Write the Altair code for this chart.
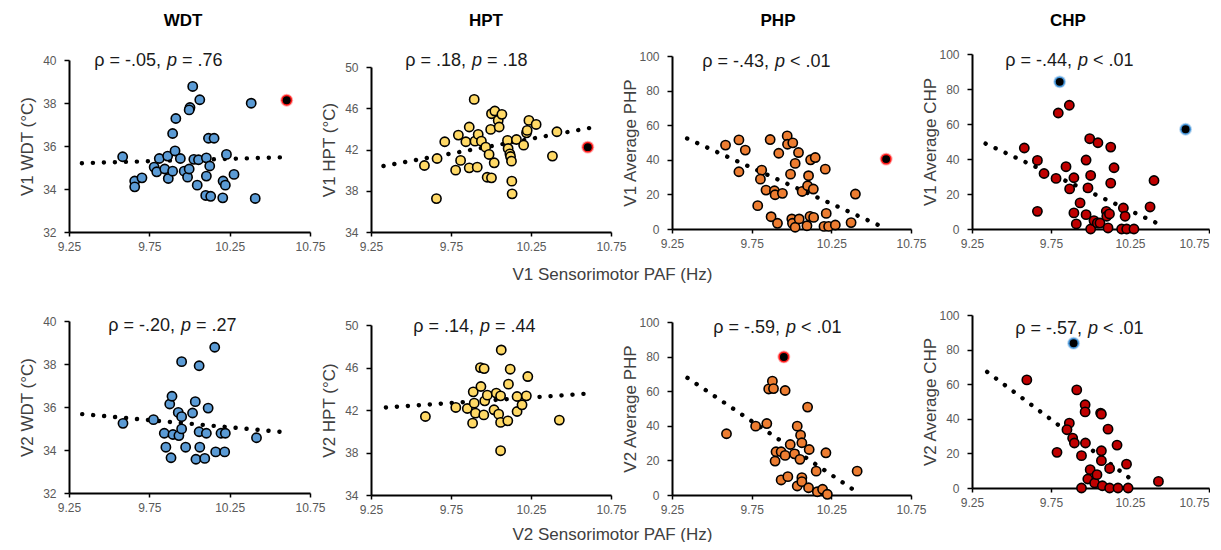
import altair as alt
import pandas as pd

FONT = "Liberation Sans"

# ---------------- data ----------------
# Row 1: V1
v1_wdt_x = [9.584, 9.659, 9.659, 9.704, 9.78, 9.796, 9.812, 9.846, 9.864, 9.868, 9.895, 9.895, 9.915,
            9.91, 9.943, 9.967, 9.988, 9.998, 10.003, 9.998, 10.02, 10.027, 10.048, 10.056, 10.064,
            10.101, 10.105, 10.105, 10.118, 10.126, 10.132, 10.153, 10.207, 10.209, 10.223, 10.23,
            10.277, 10.384, 10.409]
v1_wdt_y = [35.50, 34.37, 34.10, 34.52, 35.02, 34.80, 35.42, 34.93, 35.53, 34.49, 34.83, 36.58, 37.28,
            35.77, 35.42, 34.83, 34.55, 34.93, 37.79, 37.68, 38.77, 35.38, 34.18, 35.36, 38.15,
            33.70, 35.45, 34.60, 36.36, 35.07, 33.66, 36.36, 33.59, 34.37, 34.18, 35.61,
            34.68, 37.99, 33.56]
v1_wdt_out_x = [10.605]
v1_wdt_out_y = [38.13]
v1_wdt_trend_x = [9.33, 10.605]
v1_wdt_trend_y = [35.2, 35.48]

v1_hpt_x = [9.584, 9.659, 9.663, 9.711, 9.779, 9.796, 9.81, 9.864, 9.864, 9.843, 9.895, 9.9, 9.914,
            9.92, 9.94, 9.967, 9.976, 9.988, 9.998, 10.003, 10.003, 10.02, 10.024, 10.045, 10.051,
            10.068, 10.103, 10.107, 10.118, 10.122, 10.128, 10.13, 10.132, 10.159, 10.204, 10.222,
            10.226, 10.237, 10.282, 10.384, 10.412]
v1_hpt_y = [40.45, 37.24, 41.13, 42.75, 40.0, 43.40, 40.94, 44.18, 40.22, 42.75, 46.86, 42.81, 40.29,
            43.46, 42.81, 42.23, 39.31, 41.52, 43.95, 45.47, 39.25, 40.71, 45.73, 44.82, 44.18,
            45.41, 42.88, 42.10, 41.58, 41.32, 40.87, 38.93, 37.70, 42.97, 42.42, 43.62,
            43.85, 44.82, 44.43, 41.36, 43.72]
v1_hpt_out_x = [10.605]
v1_hpt_out_y = [42.23]
v1_hpt_trend_x = [9.328, 10.65]
v1_hpt_trend_y = [40.4, 44.18]

v1_php_x = [9.586, 9.67, 9.67, 9.71, 9.788, 9.813, 9.805, 9.84, 9.866, 9.872, 9.893, 9.897, 9.912,
            9.92, 9.943, 9.973, 9.975, 9.994, 10.002, 10.008, 10.006, 10.023, 10.023, 10.044, 10.048,
            10.067, 10.097, 10.101, 10.107, 10.12, 10.116, 10.137, 10.149, 10.139, 10.204, 10.212,
            10.218, 10.233, 10.275, 10.374, 10.401]
v1_php_y = [48.5, 51.5, 33.1, 45.6, 13.5, 34.0, 28.8, 22.5, 51.7, 7.1, 22.1, 19.8, 3.3,
            43.8, 20.6, 53.8, 49.0, 31.7, 5.8, 49.8, 3.3, 1.0, 37.9, 44.2, 5.8,
            21.7, 1.9, 25.0, 30.8, 40.0, 7.3, 23.1, 41.3, 6.7, 1.5, 34.6,
            9.0, 1.5, 2.3, 3.7, 20.2]
v1_php_out_x = [10.594]
v1_php_out_y = [40.4]
v1_php_trend_x = [9.345, 10.586]
v1_php_trend_y = [52.3, 0.6]

v1_chp_x = [9.796, 9.866, 9.581, 9.664, 9.664, 9.706, 9.782, 9.845, 9.868, 9.895, 9.895, 9.91, 9.934,
            9.972, 9.972, 9.984, 9.995, 10.001, 10.001, 10.022, 10.043, 10.047, 10.06, 10.1, 10.103,
            10.111, 10.12, 10.128, 10.128, 10.149, 10.197, 10.208, 10.219, 10.229, 10.275, 10.377,
            10.402]
v1_chp_y = [66.3, 70.7, 46.3, 39.2, 10.1, 31.7, 28.9, 35.6, 22.9, 29.3, 9.2, 2.9, 14.9,
            39.4, 8.2, 23.5, 51.6, 30.6, 0.0, 4.8, 3.4, 49.3, 3.4, 10.1, 7.3,
            0.6, 8.6, 46.8, 26.2, 35.0, 0.0, 12.0, 7.3, 0.0, 0.0, 12.6,
            27.7]
v1_chp_out_x = [9.805, 10.602]
v1_chp_out_y = [84.1, 57.0]
v1_chp_trend_x = [9.336, 10.455]
v1_chp_trend_y = [48.8, 1.9]

# Row 2: V2
v2_wdt_x = [9.586, 9.776, 9.843, 9.853, 9.885, 9.877, 9.891, 9.897, 9.93, 9.934, 9.951, 9.951, 9.951,
            9.976, 10.019, 10.036, 10.04, 10.06, 10.06, 10.064, 10.095, 10.105, 10.116, 10.157,
            10.163, 10.196, 10.223, 10.219, 10.417]
v2_wdt_y = [35.24, 35.41, 34.78, 34.13, 33.64, 36.14, 36.50, 34.72, 35.75, 34.67, 38.11, 35.55, 34.98,
            34.13, 35.72, 36.25, 33.57, 37.92, 34.85, 34.13, 33.61, 34.78, 35.95, 38.78,
            33.91, 34.78, 34.78, 33.91, 34.57]
v2_wdt_out_x = []
v2_wdt_out_y = []
v2_wdt_trend_x = [9.332, 10.605]
v2_wdt_trend_y = [35.67, 34.82]

v2_hpt_x = [9.59, 9.78, 9.852, 9.885, 9.889, 9.895, 9.903, 9.937, 9.934, 9.955, 9.957, 9.961, 9.977,
            10.019, 10.033, 10.048, 10.06, 10.064, 10.06, 10.06, 10.105, 10.12, 10.109, 10.163,
            10.163, 10.194, 10.221, 10.23, 10.427]
v2_hpt_y = [41.39, 42.24, 42.14, 40.76, 43.71, 42.64, 41.70, 44.21, 45.99, 41.54, 45.90, 42.86, 43.40,
            42.02, 43.59, 41.61, 43.33, 47.65, 40.83, 38.17, 40.98, 45.84, 44.43, 43.27,
            41.86, 42.49, 43.33, 45.15, 41.05]
v2_hpt_out_x = []
v2_hpt_out_y = []
v2_hpt_trend_x = [9.343, 10.613]
v2_hpt_trend_y = [42.24, 43.55]

v2_php_x = [9.592, 9.775, 9.845, 9.857, 9.88, 9.887, 9.897, 9.903, 9.935, 9.935, 9.96, 9.96, 9.977,
            9.992, 10.019, 10.036, 10.036, 10.053, 10.057, 10.065, 10.065, 10.065, 10.101, 10.107,
            10.111, 10.155, 10.162, 10.195, 10.216, 10.225, 10.412]
v2_php_y = [35.4, 39.8, 41.3, 61.3, 65.8, 61.5, 19.6, 25.0, 8.7, 25.0, 60.4, 22.9, 10.6,
            29.2, 23.8, 39.8, 5.2, 20.6, 34.6, 30.2, 10.0, 7.7, 50.8, 4.2,
            26.3, 13.8, 1.9, 3.3, 24.4, 0.4, 13.8]
v2_php_out_x = [9.952]
v2_php_out_y = [79.8]
v2_php_trend_x = [9.347, 10.422]
v2_php_trend_y = [67.7, 1.0]

v2_chp_x = [9.597, 9.788, 9.866, 9.851, 9.887, 9.898, 9.913, 9.943, 9.943, 9.966, 9.966, 9.968, 9.983,
            9.998, 10.026, 10.041, 10.064, 10.069, 10.069, 10.069, 10.075, 10.111, 10.121, 10.121,
            10.168, 10.174, 10.228, 10.238, 10.43]
v2_chp_y = [62.5, 20.6, 37.5, 33.7, 28.8, 26.0, 56.7, 18.7, 0.0, 48.1, 44.0, 26.0, 5.2,
            10.6, 2.9, 7.7, 43.3, 42.7, 21.5, 15.8, 1.3, 34.0, 11.3, 0.0,
            24.8, 0.0, 13.8, 0.0, 3.8]
v2_chp_out_x = [9.893]
v2_chp_out_y = [83.7]
v2_chp_trend_x = [9.346, 10.289]
v2_chp_trend_y = [67.1, 2.9]

column_titles = ["WDT", "HPT", "PHP", "CHP"]
row_xtitles = ["V1 Sensorimotor PAF (Hz)", "V2 Sensorimotor PAF (Hz)"]
x_ticks = [9.25, 9.75, 10.25, 10.75]
wdt_ticks = [32, 34, 36, 38, 40]
hpt_ticks = [34, 38, 42, 46, 50]
pct_ticks = [0, 20, 40, 60, 80, 100]

rho_text = ["ρ = -.05,", "ρ = .18,", "ρ = -.43,", "ρ = -.44,",
            "ρ = -.20,", "ρ = .14,", "ρ = -.59,", "ρ = -.57,"]
p_text = ["= .76", "= .18", "< .01", "< .01",
          "= .27", "= .44", "< .01", "< .01"]
y_titles = ["V1 WDT (°C)", "V1 HPT (°C)", "V1 Average PHP", "V1 Average CHP",
            "V2 WDT (°C)", "V2 HPT (°C)", "V2 Average PHP", "V2 Average CHP"]

# ---------------- styling / layout ----------------
COL_W = [241, 240, 239, 237]
ROW_H = [178, 180]
# pixel extent (top, bottom) of each panel's vertical axis inside its cell
Y_RANGE = [(6, 178), (13, 178), (2, 175), (0, 175),
           (6, 178), (10, 180), (7, 180), (0, 173)]
X_OFFSET = [0, 0, -3, -3, -2, 0, 0, -7]
TITLE_X = [114, 115, 106, 96]
TITLE_Y = -33.5
XTITLE_Y = [42, 39]
COLORS = {"WDT": "#5B9BD5", "HPT": "#FFD966", "PHP": "#ED7D31", "CHP": "#C00000"}
GLOW = {"WDT": "#FF1010", "HPT": "#FF1010", "PHP": "#FF1010", "CHP": "#3C8FD6"}
P_X = [98, 101, 103, 106, 112, 109, 114, 116]   # left position of italic p (px in panel)
TEXT_Y = [7, 7, 8, 7, 11, 12, 13, 14]
FS = 18

series = [
    (v1_wdt_x, v1_wdt_y, v1_wdt_out_x, v1_wdt_out_y, v1_wdt_trend_x, v1_wdt_trend_y, "WDT", [32, 40], wdt_ticks),
    (v1_hpt_x, v1_hpt_y, v1_hpt_out_x, v1_hpt_out_y, v1_hpt_trend_x, v1_hpt_trend_y, "HPT", [34, 50], hpt_ticks),
    (v1_php_x, v1_php_y, v1_php_out_x, v1_php_out_y, v1_php_trend_x, v1_php_trend_y, "PHP", [0, 100], pct_ticks),
    (v1_chp_x, v1_chp_y, v1_chp_out_x, v1_chp_out_y, v1_chp_trend_x, v1_chp_trend_y, "CHP", [0, 100], pct_ticks),
    (v2_wdt_x, v2_wdt_y, v2_wdt_out_x, v2_wdt_out_y, v2_wdt_trend_x, v2_wdt_trend_y, "WDT", [32, 40], wdt_ticks),
    (v2_hpt_x, v2_hpt_y, v2_hpt_out_x, v2_hpt_out_y, v2_hpt_trend_x, v2_hpt_trend_y, "HPT", [34, 50], hpt_ticks),
    (v2_php_x, v2_php_y, v2_php_out_x, v2_php_out_y, v2_php_trend_x, v2_php_trend_y, "PHP", [0, 100], pct_ticks),
    (v2_chp_x, v2_chp_y, v2_chp_out_x, v2_chp_out_y, v2_chp_trend_x, v2_chp_trend_y, "CHP", [0, 100], pct_ticks),
]


def make_panel(i):
    xs, ys, oxs, oys, txs, tys, kind, ydom, yticks = series[i]
    row, col = divmod(i, 4)
    w = COL_W[col]
    h = ROW_H[row]
    ytop, ybot = Y_RANGE[i]

    xkw = dict(values=x_ticks, format=".2f", offset=X_OFFSET[i])
    if col == 3:
        xkw["labelAlign"] = {"condition": {"test": "datum.value > 10.7", "value": "right"},
                             "value": "center"}
    if col == 1:
        xaxis = alt.Axis(title=row_xtitles[row], titleX=241, titleY=XTITLE_Y[row],
                         titleBaseline="middle", titleAnchor="middle", **xkw)
    else:
        xaxis = alt.Axis(title=None, **xkw)
    yaxis = alt.Axis(values=yticks, title=y_titles[i], titleX=-42, titleY=(ytop + ybot) / 2,
                     titleBaseline="middle", titleAnchor="middle")

    xenc = alt.X("x:Q", scale=alt.Scale(domain=[9.25, 10.75], nice=False, zero=False), axis=xaxis)
    yenc = alt.Y("y:Q", scale=alt.Scale(domain=ydom, range=[ybot, ytop], nice=False, zero=False),
                 axis=yaxis)

    trend = alt.Chart(pd.DataFrame({"x": txs, "y": tys})).mark_line(
        color="black", strokeWidth=4.4, strokeDash=[0.1, 10.9], strokeCap="round"
    ).encode(x=xenc, y=yenc)

    pts = alt.Chart(pd.DataFrame({"x": xs, "y": ys})).mark_circle(
        size=86, color=COLORS[kind], opacity=1, stroke="black", strokeWidth=1.6
    ).encode(x=xenc, y=yenc)

    layers = [trend, pts]
    if oxs:
        odf = pd.DataFrame({"x": oxs, "y": oys})
        layers.append(alt.Chart(odf).mark_circle(size=165, color=GLOW[kind], opacity=0.35)
                      .encode(x=xenc, y=yenc))
        layers.append(alt.Chart(odf).mark_circle(size=118, color=GLOW[kind], opacity=0.95)
                      .encode(x=xenc, y=yenc))
        layers.append(alt.Chart(odf).mark_circle(size=62, color="black", opacity=1)
                      .encode(x=xenc, y=yenc))

    px = P_X[i]
    ty = TEXT_Y[i]
    tdf = pd.DataFrame({"pre": [rho_text[i]], "p": ["p"], "post": [p_text[i]],
                        "title": [column_titles[col]]})
    base_t = alt.Chart(tdf)
    layers.append(base_t.mark_text(align="right", baseline="middle", fontSize=FS, color="#1a1a1a")
                  .encode(x=alt.value(px - 6), y=alt.value(ty), text="pre:N"))
    layers.append(base_t.mark_text(align="left", baseline="middle", fontSize=FS, fontStyle="italic",
                                   color="#1a1a1a")
                  .encode(x=alt.value(px), y=alt.value(ty), text="p:N"))
    layers.append(base_t.mark_text(align="left", baseline="middle", fontSize=FS, color="#1a1a1a")
                  .encode(x=alt.value(px + 15), y=alt.value(ty), text="post:N"))
    if row == 0:
        layers.append(base_t.mark_text(align="center", baseline="middle", fontSize=17,
                                       fontWeight="bold", color="black")
                      .encode(x=alt.value(TITLE_X[col]), y=alt.value(TITLE_Y), text="title:N"))

    return alt.layer(*layers).properties(width=w, height=h)


panels = [make_panel(i) for i in range(8)]

chart = alt.concat(*panels, columns=4, spacing={"row": 83, "column": 61}, bounds="flush",
                   align="each").properties(
    padding={"left": 10, "top": 3, "right": 0, "bottom": 0}
).configure(font=FONT).configure_view(stroke=None).configure_axis(
    grid=False, domainColor="black", domainWidth=2, tickColor="black", tickWidth=1.5,
    labelColor="#595959", labelFontSize=12, titleFontSize=17, titleFontWeight="normal",
    titleColor="#404040", labelFlush=False
).configure_axisY(
    tickSize=5, labelPadding=8
).configure_axisX(
    tickSize=4, labelPadding=5
)

chart.save("out.html", embed_options={"renderer": "svg", "actions": False})
